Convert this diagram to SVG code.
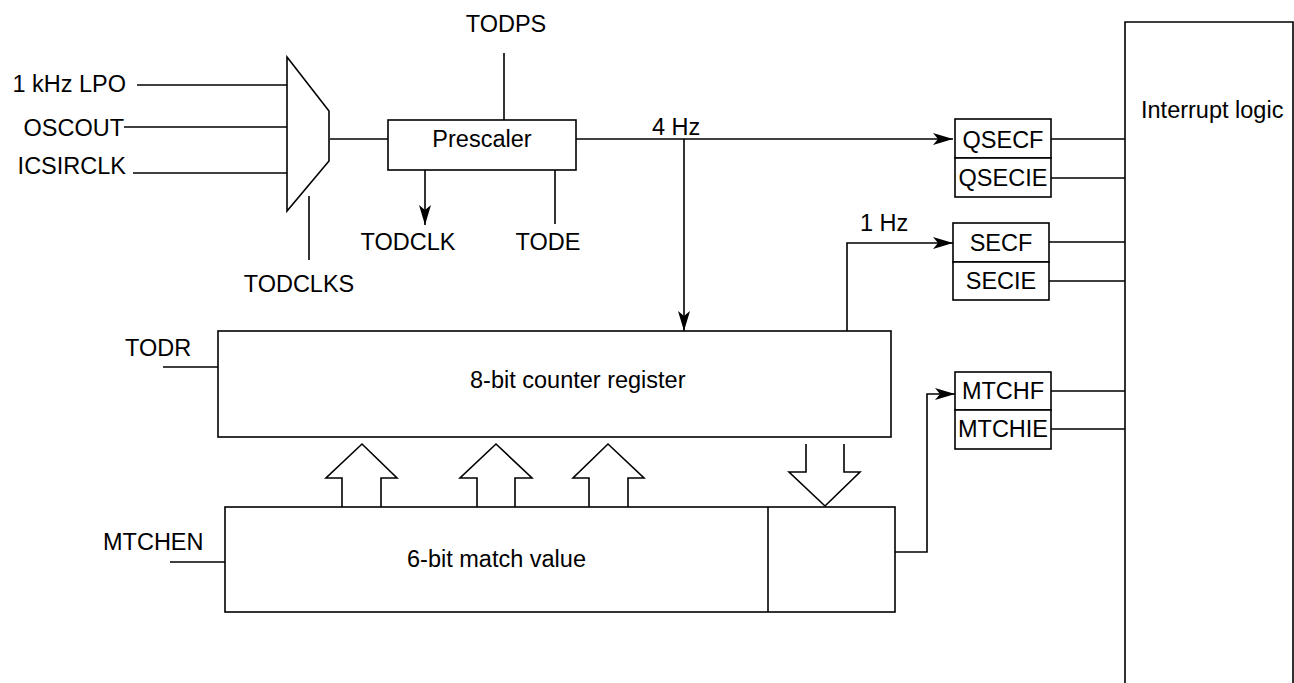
<svg xmlns="http://www.w3.org/2000/svg" width="1294" height="683" viewBox="0 0 1294 683">
<style>
text{font-family:"Liberation Sans",Arial,sans-serif;font-size:23.5px;fill:#000}
.b{fill:#fff;stroke:#000;stroke-width:1.6}
.w{fill:none;stroke:#000;stroke-width:1.6}
.c{text-anchor:middle}
.e{text-anchor:end}
</style>
<defs>
<marker id="arr" markerWidth="20" markerHeight="12" refX="20" refY="6" orient="auto" markerUnits="userSpaceOnUse">
<path d="M0,0 L20,6 L0,12 L5,6 Z" fill="#000"/>
</marker>
</defs>
<rect width="1294" height="683" fill="#fff"/>
<g id="connectors">
<path class="w" d="M137,85 H287"/>
<path class="w" d="M124,127 H290"/>
<path class="w" d="M133,173 H287"/>
<path class="w" d="M309,196 V260"/>
<path class="w" d="M330,139 H388"/>
<path class="w" d="M504,53 V120"/>
<path class="w" d="M425,170 V225" marker-end="url(#arr)"/>
<path class="w" d="M555,170 V224"/>
<path class="w" d="M576,139 H953" marker-end="url(#arr)"/>
<path class="w" d="M684,139 V331" marker-end="url(#arr)"/>
<path class="w" d="M847,333 V243 H953" marker-end="url(#arr)"/>
<path class="w" d="M895,552 H927 V394 H955" marker-end="url(#arr)"/>
<path class="w" d="M1051,139 H1125 M1051,178 H1125 M1049,242 H1125 M1049,281 H1125 M1051,391 H1125 M1051,429 H1125"/>
<path class="w" d="M163,367 H218"/>
<path class="w" d="M170,562 H225"/>
<path class="b" d="M342,507 V478 H326 L362,444 L397,478 H381 V507"/>
<path class="b" d="M477,507 V478 H460 L496,444 L532,478 H515 V507"/>
<path class="b" d="M589,507 V478 H573 L608,444 L644,478 H628 V507"/>
<path class="b" d="M806,444 V472 H789 L825,506 L860,472 H844 V444"/>
</g>
<g id="inputs">
<text class="e" x="126" y="92">1 kHz LPO</text>
<text class="e" x="124" y="136">OSCOUT</text>
<text class="e" x="126" y="174">ICSIRCLK</text>
</g>
<g id="mux">
<path class="b" d="M287,57 L329,111 V161 L287,211 Z"/>
<text class="c" x="299" y="292">TODCLKS</text>
</g>
<g id="prescaler">
<rect class="b" x="388" y="120" width="188" height="50"/>
<text class="c" x="482" y="147">Prescaler</text>
<text class="c" x="506" y="32">TODPS</text>
<text class="c" x="408" y="250">TODCLK</text>
<text class="c" x="548" y="250">TODE</text>
</g>
<g id="freq-labels">
<text x="652" y="135">4 Hz</text>
<text x="860" y="231">1 Hz</text>
</g>
<g id="counter">
<rect class="b" x="218" y="331" width="673" height="106"/>
<text x="470" y="388">8-bit counter register</text>
<text x="125" y="356">TODR</text>
</g>
<g id="match">
<rect class="b" x="225" y="507" width="670" height="105"/>
<path class="w" d="M768,507 V612"/>
<text x="407" y="567">6-bit match value</text>
<text x="103" y="550">MTCHEN</text>
</g>
<g id="qsec">
<rect class="b" x="955" y="119" width="96" height="39"/>
<rect class="b" x="955" y="158" width="96" height="39"/>
<text class="c" x="1003" y="148">QSECF</text>
<text class="c" x="1003" y="186">QSECIE</text>
</g>
<g id="sec">
<rect class="b" x="953" y="223" width="96" height="39"/>
<rect class="b" x="953" y="262" width="96" height="38"/>
<text class="c" x="1001" y="251">SECF</text>
<text class="c" x="1001" y="289">SECIE</text>
</g>
<g id="mtch">
<rect class="b" x="955" y="372" width="96" height="38"/>
<rect class="b" x="955" y="410" width="96" height="39"/>
<text class="c" x="1003" y="399">MTCHF</text>
<text class="c" x="1003" y="437">MTCHIE</text>
</g>
<g id="interrupt">
<path class="b" d="M1125,690 V22 H1293 V690"/>
<text x="1141" y="118">Interrupt logic</text>
</g>
</svg>
